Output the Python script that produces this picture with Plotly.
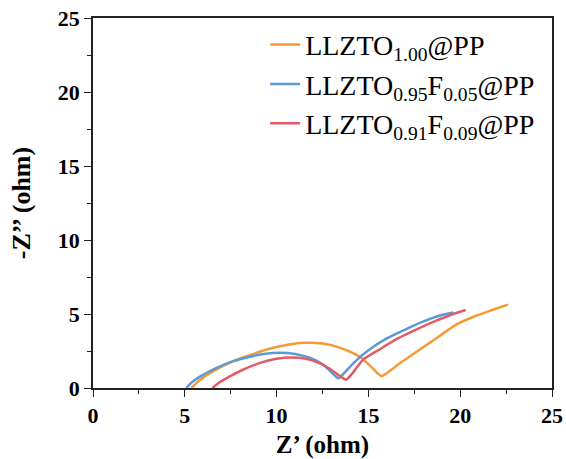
import plotly.graph_objects as go

# Nyquist data (Z' vs -Z'') for the three separators
names = [
    "LLZTO<sub>1.00</sub>@PP",
    "LLZTO<sub>0.95</sub>F<sub>0.05</sub>@PP",
    "LLZTO<sub>0.91</sub>F<sub>0.09</sub>@PP",
]
colors = ["#f39b35", "#5b9bd5", "#e35b68"]

z_re_100 = [5.37, 5.6, 6.0, 6.8, 7.7, 8.6, 9.6, 10.6, 11.6, 12.5, 13.3, 14.0, 14.6, 15.1, 15.5, 15.72,
            16.0, 16.8, 17.8, 18.8, 19.8, 20.8, 21.7, 22.6]
z_im_100 = [0.0, 0.3, 0.7, 1.3, 1.85, 2.25, 2.65, 2.92, 3.05, 3.0, 2.78, 2.45, 2.05, 1.5, 1.0, 0.8,
            1.0, 1.75, 2.6, 3.45, 4.3, 4.85, 5.25, 5.63]

z_re_095 = [5.09, 5.3, 5.8, 6.7, 7.6, 8.5, 9.4, 10.2, 11.0, 11.8, 12.5, 13.0, 13.36,
            13.6, 14.2, 15.0, 16.0, 17.0, 18.0, 18.9, 19.63]
z_im_095 = [0.0, 0.3, 0.75, 1.35, 1.8, 2.1, 2.32, 2.38, 2.3, 2.05, 1.6, 1.05, 0.65,
            0.9, 1.7, 2.55, 3.35, 3.95, 4.5, 4.9, 5.1]

z_re_091 = [6.51, 6.8, 7.4, 8.2, 9.1, 10.0, 10.8, 11.6, 12.3, 12.9, 13.4, 13.78,
            14.1, 14.7, 15.6, 16.6, 17.6, 18.6, 19.5, 20.3]
z_im_091 = [0.0, 0.3, 0.75, 1.25, 1.7, 1.97, 2.06, 1.98, 1.7, 1.3, 0.85, 0.57,
            0.95, 1.9, 2.6, 3.35, 3.95, 4.5, 4.95, 5.27]

x_ticks = [0, 5, 10, 15, 20, 25]
y_ticks = [0, 5, 10, 15, 20, 25]

series = [(z_re_100, z_im_100), (z_re_095, z_im_095), (z_re_091, z_im_091)]
SERIF = "Liberation Serif, Times New Roman, serif"

fig = go.Figure()
for (xs, ys), name, c in zip(series, names, colors):
    fig.add_trace(go.Scatter(
        x=xs, y=ys, mode="lines", name=name,
        line=dict(color=c, width=2.5, shape="spline", smoothing=0.6),
    ))

axis_common = dict(
    showline=True, linecolor="#222", linewidth=1.5, mirror=True,
    ticks="outside", ticklen=7, tickwidth=1.3, tickcolor="#222",
    showgrid=False, zeroline=False,
    minor=dict(ticks="outside", ticklen=4, tickwidth=1.2, tickcolor="#222", dtick=2.5),
    tickfont=dict(family=SERIF, size=22, color="black", weight="bold"),
)

fig.update_layout(
    width=566, height=459,
    margin=dict(l=93, r=14, t=18, b=71, autoexpand=False),
    paper_bgcolor="white", plot_bgcolor="white",
    showlegend=True,
    legend=dict(
        x=0.375, y=0.995, xanchor="left", yanchor="top",
        bgcolor="rgba(0,0,0,0)", borderwidth=0,
        font=dict(family=SERIF, size=28, color="black"),
        itemwidth=30, tracegroupgap=0,
    ),
    xaxis=dict(
        range=[0, 25], tickvals=x_ticks, ticktext=[str(v) for v in x_ticks],
        title=dict(text="Z’ (ohm)", standoff=8,
                   font=dict(family=SERIF, size=25, color="black", weight="bold")),
        **axis_common,
    ),
    yaxis=dict(
        range=[0, 25], tickvals=y_ticks, ticktext=[str(v) for v in y_ticks],
        title=dict(text="-Z’’ (ohm)", standoff=20,
                   font=dict(family=SERIF, size=26, color="black", weight="bold")),
        **axis_common,
    ),
)

fig.write_html("out.html")
